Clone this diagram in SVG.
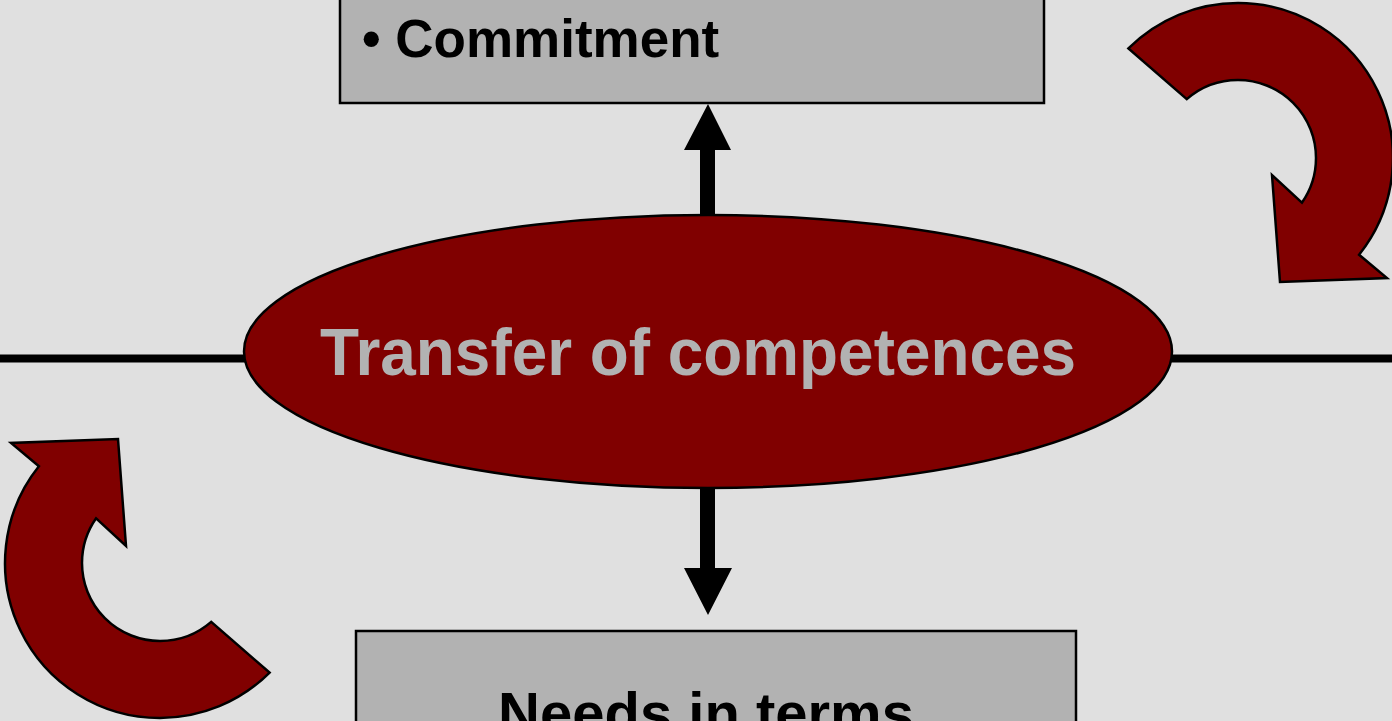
<svg xmlns="http://www.w3.org/2000/svg" width="1392" height="721" viewBox="0 0 1392 721">
<style>
.box{fill:#B2B2B2;stroke:#000;stroke-width:2.5}
.lbl{font-family:"Liberation Sans",Arial,sans-serif;font-weight:bold;fill:#000}
.curl{fill:#800000;stroke:#000;stroke-width:2.5;stroke-linejoin:miter}
</style>
<defs>
<path id="curlpath" d="M1128.4,48.4 A155,155 0 0 1 1238,3 A155,155 0 0 1 1359.1,254.7 L1387,278 L1280,282 L1272,175 L1301.9,202.7 A78,78 0 0 0 1316,158 A78,78 0 0 0 1238,80 A78,78 0 0 0 1186.8,99.1 Z"/>
</defs>
<rect width="1392" height="721" fill="#E0E0E0"/>
<g id="connectors">
<line x1="0" y1="358.5" x2="250" y2="358.5" stroke="#000" stroke-width="8"/>
<line x1="1165" y1="358.5" x2="1392" y2="358.5" stroke="#000" stroke-width="8"/>
<polygon points="700,220 700,150 684,150 708,104 731,150 715,150 715,220" fill="#000"/>
<polygon points="700,484 700,568 684,568 708,615 732,568 715,568 715,484" fill="#000"/>
</g>
<g id="top-box">
<rect class="box" x="340" y="-10" width="704" height="113"/>
<text class="lbl" x="362" y="57" font-size="53">• Commitment</text>
</g>
<g id="bottom-box">
<rect class="box" x="356" y="631" width="720" height="110"/>
<text class="lbl" x="706" y="733" font-size="58" text-anchor="middle">Needs in terms</text>
</g>
<g id="center">
<ellipse cx="708" cy="351.5" rx="464" ry="136.5" fill="#800000" stroke="#000" stroke-width="2.5"/>
<text x="698" y="375" text-anchor="middle" font-family="'Liberation Sans',Arial,sans-serif" font-weight="bold" font-size="66" fill="#B2B2B2" textLength="756" lengthAdjust="spacingAndGlyphs">Transfer of competences</text>
</g>
<g id="curl-top-right">
<use href="#curlpath" class="curl"/>
</g>
<g id="curl-bottom-left">
<use href="#curlpath" class="curl" transform="rotate(180 699 360.5)"/>
</g>
</svg>
